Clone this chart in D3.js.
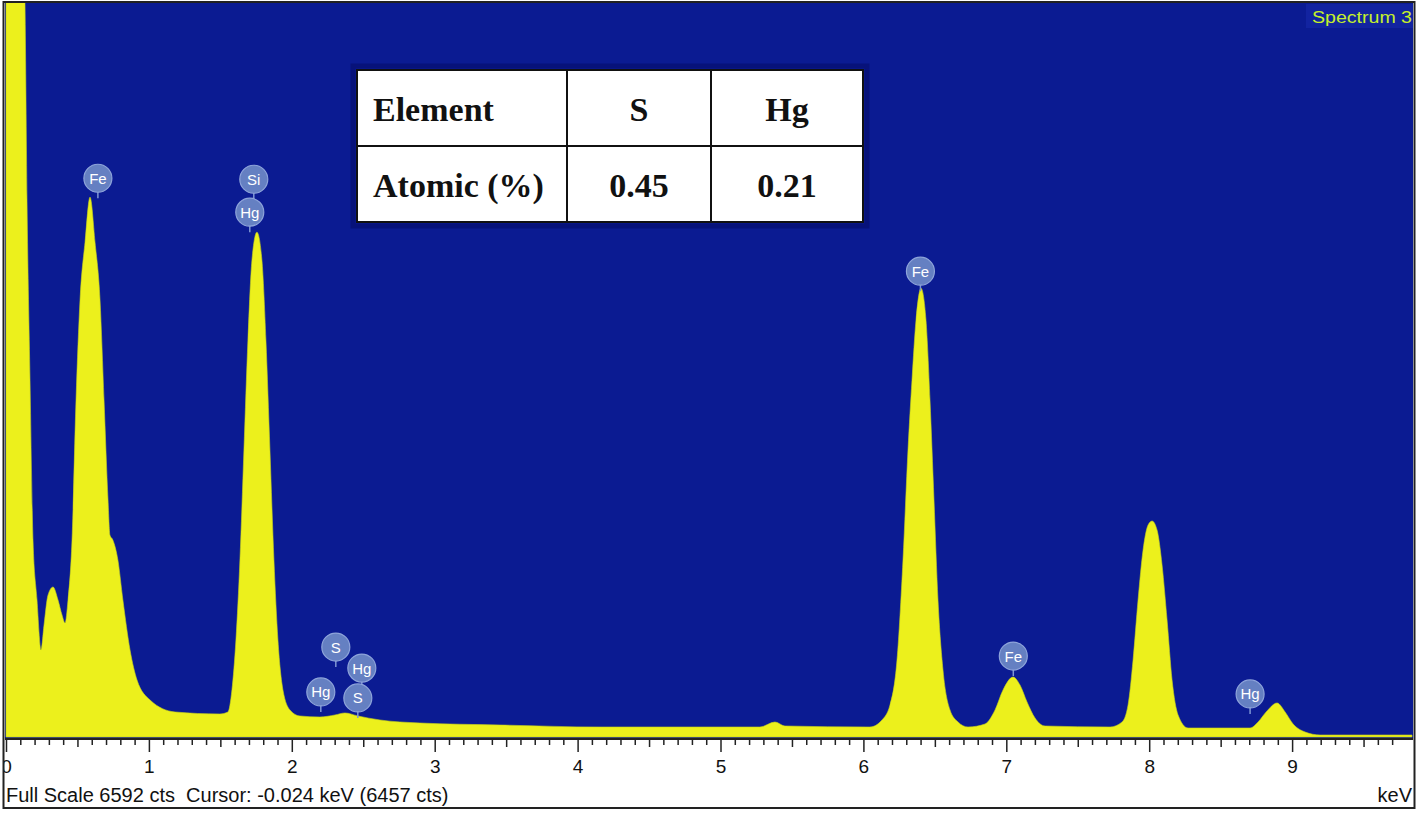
<!DOCTYPE html>
<html><head><meta charset="utf-8">
<script src="https://cdn.jsdelivr.net/npm/d3@7/dist/d3.min.js"></script>
<style>
html,body{margin:0;padding:0;background:#fff;}
svg{display:block;}
</style></head>
<body>
<svg id="chart" width="1422" height="815"></svg>
<script>
// Spectrum: energy (keV) and counts
const energy = [0.000,0.119,0.133,0.147,0.168,0.189,0.217,0.245,0.266,0.294,0.329,0.364,0.392,0.413,0.434,0.462,0.490,0.518,0.553,0.588,0.623,0.658,0.686,0.714,0.727,0.748,0.783,0.818,0.868,0.917,1.008,1.183,1.497,1.553,1.581,1.609,1.637,1.665,1.693,1.721,1.756,1.791,1.819,1.847,1.875,1.903,1.938,1.987,2.057,2.197,2.302,2.372,2.463,2.617,2.897,3.457,4.157,4.857,5.276,5.381,5.451,6.046,6.130,6.186,6.235,6.277,6.312,6.340,6.368,6.403,6.438,6.466,6.494,6.522,6.557,6.606,6.662,6.732,6.851,6.921,6.977,7.047,7.096,7.145,7.201,7.271,7.726,7.810,7.852,7.887,7.922,7.957,7.992,8.020,8.055,8.090,8.125,8.160,8.202,8.272,8.706,8.762,8.818,8.895,8.951,9.007,9.091,9.196,9.839];
const counts = [7500,7500,6590,4830,3210,1771,1232,782,1007,1276,1349,1232,1097,1025,1232,1771,3030,3929,4450,4855,4450,3929,3030,2131,1816,1771,1591,1232,782,512,333,225,207,225,423,872,1591,2580,3569,4288,4540,4288,3569,2580,1591,872,423,243,189,180,198,216,189,153,126,108,90,90,90,135,99,90,153,288,692,1591,2580,3209,3749,4036,3749,3030,2131,1232,602,243,135,90,117,243,423,539,467,315,171,99,90,135,288,692,1232,1681,1906,1942,1861,1546,1052,512,198,81,81,135,225,306,225,117,45,18,18];

// Peak labels
const labelNames = ["Fe","Si","Hg","S","Hg","Hg","S","Fe","Fe","Hg"];
const labelKeV = [0.643,1.734,1.706,2.308,2.490,2.203,2.462,6.399,7.049,8.706];
const labelCounts = [5025,5016,4720,809,620,405,351,4189,728,387];

// Axis ticks
const majorTicks = [0,1,2,3,4,5,6,7,8,9];
const fullScale = 6592;
const maxKeV = 9.839;

// Table
const tableHeader = ["Element","S","Hg"];
const tableRow = ["Atomic (%)","0.45","0.21"];

const svg = d3.select("#chart");
const W = 1422, H = 815;
const plot = {left:5, right:1413, top:3, bottom:738};

const x = d3.scaleLinear().domain([0, maxKeV]).range([6, 1412]);
const y = d3.scaleLinear().domain([0, fullScale]).range([737, 4]);

svg.append("rect").attr("x",0).attr("y",0).attr("width",W).attr("height",H).attr("fill","#fff");

svg.append("rect").attr("x",plot.left).attr("y",plot.top)
  .attr("width",plot.right-plot.left).attr("height",plot.bottom-plot.top)
  .attr("fill","#0b1b92");

svg.append("defs").append("clipPath").attr("id","clip")
  .append("rect").attr("x",plot.left).attr("y",plot.top)
  .attr("width",plot.right-plot.left).attr("height",plot.bottom-plot.top);

const data = energy.map((e,i)=>({e, c:counts[i]}));
const area = d3.area()
  .x(d=>x(d.e)).y0(y(0)).y1(d=>y(d.c))
  .curve(d3.curveMonotoneX);

svg.append("path").datum(data)
  .attr("clip-path","url(#clip)")
  .attr("d", area)
  .attr("fill","#ecf01c")
  .attr("stroke","#c8d41a").attr("stroke-width",0.6);

// Spectrum label
svg.append("rect").attr("x",1306).attr("y",4).attr("width",107).attr("height",24).attr("fill","#1223a0");
svg.append("text").attr("x",1412).attr("y",23).attr("text-anchor","end")
  .attr("font-family","Liberation Sans, Arial, sans-serif").attr("font-size",16)
  .attr("textLength",100).attr("lengthAdjust","spacingAndGlyphs")
  .attr("fill","#c4f02a").text("Spectrum 3");

// Peak labels
const lg = svg.append("g");
labelNames.forEach((n,i)=>{
  const cx = x(labelKeV[i]), cy = y(labelCounts[i]);
  lg.append("line").attr("x1",cx).attr("x2",cx).attr("y1",cy+12).attr("y2",cy+20)
    .attr("stroke","#7f97d4").attr("stroke-width",1.5);
  lg.append("circle").attr("cx",cx).attr("cy",cy).attr("r",14)
    .attr("fill","#6580c2").attr("stroke","#8ea4da").attr("stroke-width",1.2);
  lg.append("text").attr("x",cx).attr("y",cy+5.5).attr("text-anchor","middle")
    .attr("font-family","Liberation Sans, Arial, sans-serif").attr("font-size",15)
    .attr("fill","#ffffff").text(n);
});

// Table
const tb = {x0:357, x1:567, x2:711, x3:863, y0:70, y1:146, y2:222};
const tg = svg.append("g");
tg.append("rect").attr("x",tb.x0-4).attr("y",tb.y0-4).attr("width",tb.x3-tb.x0+8).attr("height",tb.y2-tb.y0+8)
  .attr("fill","none").attr("stroke","#07127a").attr("stroke-width",5);
tg.append("rect").attr("x",tb.x0).attr("y",tb.y0).attr("width",tb.x3-tb.x0).attr("height",tb.y2-tb.y0)
  .attr("fill","#fff").attr("stroke","#111").attr("stroke-width",2);
[[tb.x1,tb.y0,tb.x1,tb.y2],[tb.x2,tb.y0,tb.x2,tb.y2],[tb.x0,tb.y1,tb.x3,tb.y1]].forEach(l=>{
  tg.append("line").attr("x1",l[0]).attr("y1",l[1]).attr("x2",l[2]).attr("y2",l[3])
    .attr("stroke","#111").attr("stroke-width",2);
});
const cellX = [{x:373,a:"start"},{x:(tb.x1+tb.x2)/2,a:"middle"},{x:(tb.x2+tb.x3)/2,a:"middle"}];
[[tableHeader,121],[tableRow,197]].forEach(([row,by])=>{
  row.forEach((t,i)=>{
    tg.append("text").attr("x",cellX[i].x).attr("y",by).attr("text-anchor",cellX[i].a)
      .attr("font-family","Liberation Serif, Times New Roman, serif").attr("font-weight","bold")
      .attr("font-size",34).attr("fill","#111").text(t);
  });
});

// Axis
const axisY = 739;
svg.append("line").attr("x1",plot.left).attr("x2",plot.right).attr("y1",axisY).attr("y2",axisY)
  .attr("stroke","#222").attr("stroke-width",2);

const minorTicks = d3.range(0, 98).map(i=>i/10).filter(v=>Math.abs(v-Math.round(v))>1e-6 && Math.abs(v*2-Math.round(v*2))>1e-6);
const halfTicks = d3.range(0, 10).map(i=>i+0.5).filter(v=>v<maxKeV);

const ag = svg.append("g");
const axMinor = d3.axisBottom(x).tickValues(minorTicks).tickSize(6).tickFormat("");
const axHalf = d3.axisBottom(x).tickValues(halfTicks).tickSize(8).tickFormat("");
const axMajor = d3.axisBottom(x).tickValues(majorTicks).tickSize(13).tickPadding(8).tickFormat(d3.format("d"));
[axMinor, axHalf].forEach(a=>{
  const g = ag.append("g").attr("transform",`translate(0,${axisY})`).call(a);
  g.select(".domain").remove();
  g.selectAll(".tick line").attr("stroke","#222").attr("stroke-width",1.5);
});
const gm = ag.append("g").attr("transform",`translate(0,${axisY})`).call(axMajor);
gm.select(".domain").remove();
gm.selectAll(".tick line").attr("stroke","#222").attr("stroke-width",1.5);
gm.selectAll(".tick text").attr("font-family","Liberation Sans, Arial, sans-serif")
  .attr("font-size",19).attr("fill","#111");

svg.append("rect").attr("x",0).attr("y",0).attr("width",4).attr("height",H).attr("fill","#fff");

// Bottom texts
svg.append("text").attr("x",6).attr("y",802)
  .attr("font-family","Liberation Sans, Arial, sans-serif").attr("font-size",20).attr("fill","#111")
  .attr("xml:space","preserve").style("white-space","pre")
  .text("Full Scale 6592 cts  Cursor: -0.024 keV (6457 cts)");
svg.append("text").attr("x",1412).attr("y",802).attr("text-anchor","end")
  .attr("font-family","Liberation Sans, Arial, sans-serif").attr("font-size",20).attr("fill","#111")
  .text("keV");

// Outer frame
svg.append("rect").attr("x",3.5).attr("y",2).attr("width",1411).attr("height",806)
  .attr("fill","none").attr("stroke","#222").attr("stroke-width",2);
</script>
</body></html>
